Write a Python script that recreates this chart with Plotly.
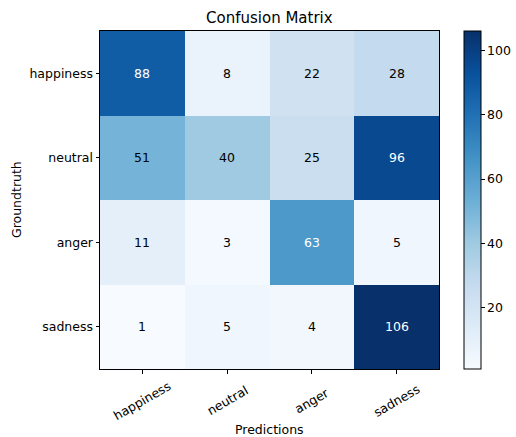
import plotly.graph_objects as go

classes = ["happiness", "neutral", "anger", "sadness"]
values = [
    [88, 8, 22, 28],
    [51, 40, 25, 96],
    [11, 3, 63, 5],
    [1, 5, 4, 106],
]

blues = ["#f7fbff", "#deebf7", "#c6dbef", "#9ecae1", "#6baed6",
         "#4292c6", "#2171b5", "#08519c", "#08306b"]
colorscale = [[i / (len(blues) - 1), c] for i, c in enumerate(blues)]

zmin = min(min(r) for r in values)
zmax = max(max(r) for r in values)
thresh = zmax / 2.0

FONT = "DejaVu Sans"
FS = 12.5
fig = go.Figure()
fig.add_trace(go.Heatmap(
    z=values, x=classes, y=classes,
    colorscale=colorscale, zmin=zmin, zmax=zmax,
    xgap=0, ygap=0,
    colorbar=dict(
        x=1.074, xanchor="left", xref="paper", xpad=0, ypad=0,
        y=0, yanchor="bottom", len=1, lenmode="fraction",
        thickness=17, outlinecolor="black", outlinewidth=1,
        ticks="outside", ticklen=3.5, tickcolor="black",
        tickvals=[20, 40, 60, 80, 100],
        tickfont=dict(family=FONT, size=FS, color="black"),
    ),
    hoverinfo="skip",
))

for i, row in enumerate(values):
    for j, v in enumerate(row):
        fig.add_annotation(
            x=classes[j], y=classes[i], text=str(v), showarrow=False,
            font=dict(family=FONT, size=FS,
                      color="white" if v > thresh else "black"),
        )

# rotated x tick labels, centred under their ticks
for c in classes:
    fig.add_annotation(
        x=c, xref="x", y=0, yref="paper", yshift=-31,
        xanchor="center", yanchor="middle", textangle=-30,
        text=c, showarrow=False,
        font=dict(family=FONT, size=FS, color="black"),
    )

fig.add_annotation(
    x=0.5, xref="paper", y=0, yref="paper", yshift=-60,
    xanchor="center", yanchor="middle", text="Predictions",
    showarrow=False, font=dict(family=FONT, size=FS, color="black"),
)
fig.add_annotation(
    x=0, xref="paper", xshift=-84, y=0.5, yref="paper",
    xanchor="center", yanchor="middle", textangle=-90, text="Groundtruth",
    showarrow=False, font=dict(family=FONT, size=FS, color="black"),
)

axis_common = dict(
    showline=True, linecolor="black", linewidth=1, mirror=True,
    ticks="outside", ticklen=3.5, tickcolor="black", showgrid=False,
    zeroline=False, automargin=False,
    tickfont=dict(family=FONT, size=FS, color="black"),
)

fig.update_layout(
    width=516, height=437,
    margin=dict(l=100, r=77, t=31, b=68, autoexpand=False),
    paper_bgcolor="white", plot_bgcolor="white",
    title=dict(text="Confusion Matrix", x=0.522, xanchor="center",
               y=1 - 18 / 437, yanchor="middle",
               font=dict(family=FONT, size=15, color="black")),
    xaxis=dict(axis_common, showticklabels=False),
    yaxis=dict(axis_common, autorange="reversed"),
)

fig.write_html("out.html",
               config={"displayModeBar": False},
               post_script="document.body.style.margin='0';"
                           "document.body.style.overflow='hidden';")
